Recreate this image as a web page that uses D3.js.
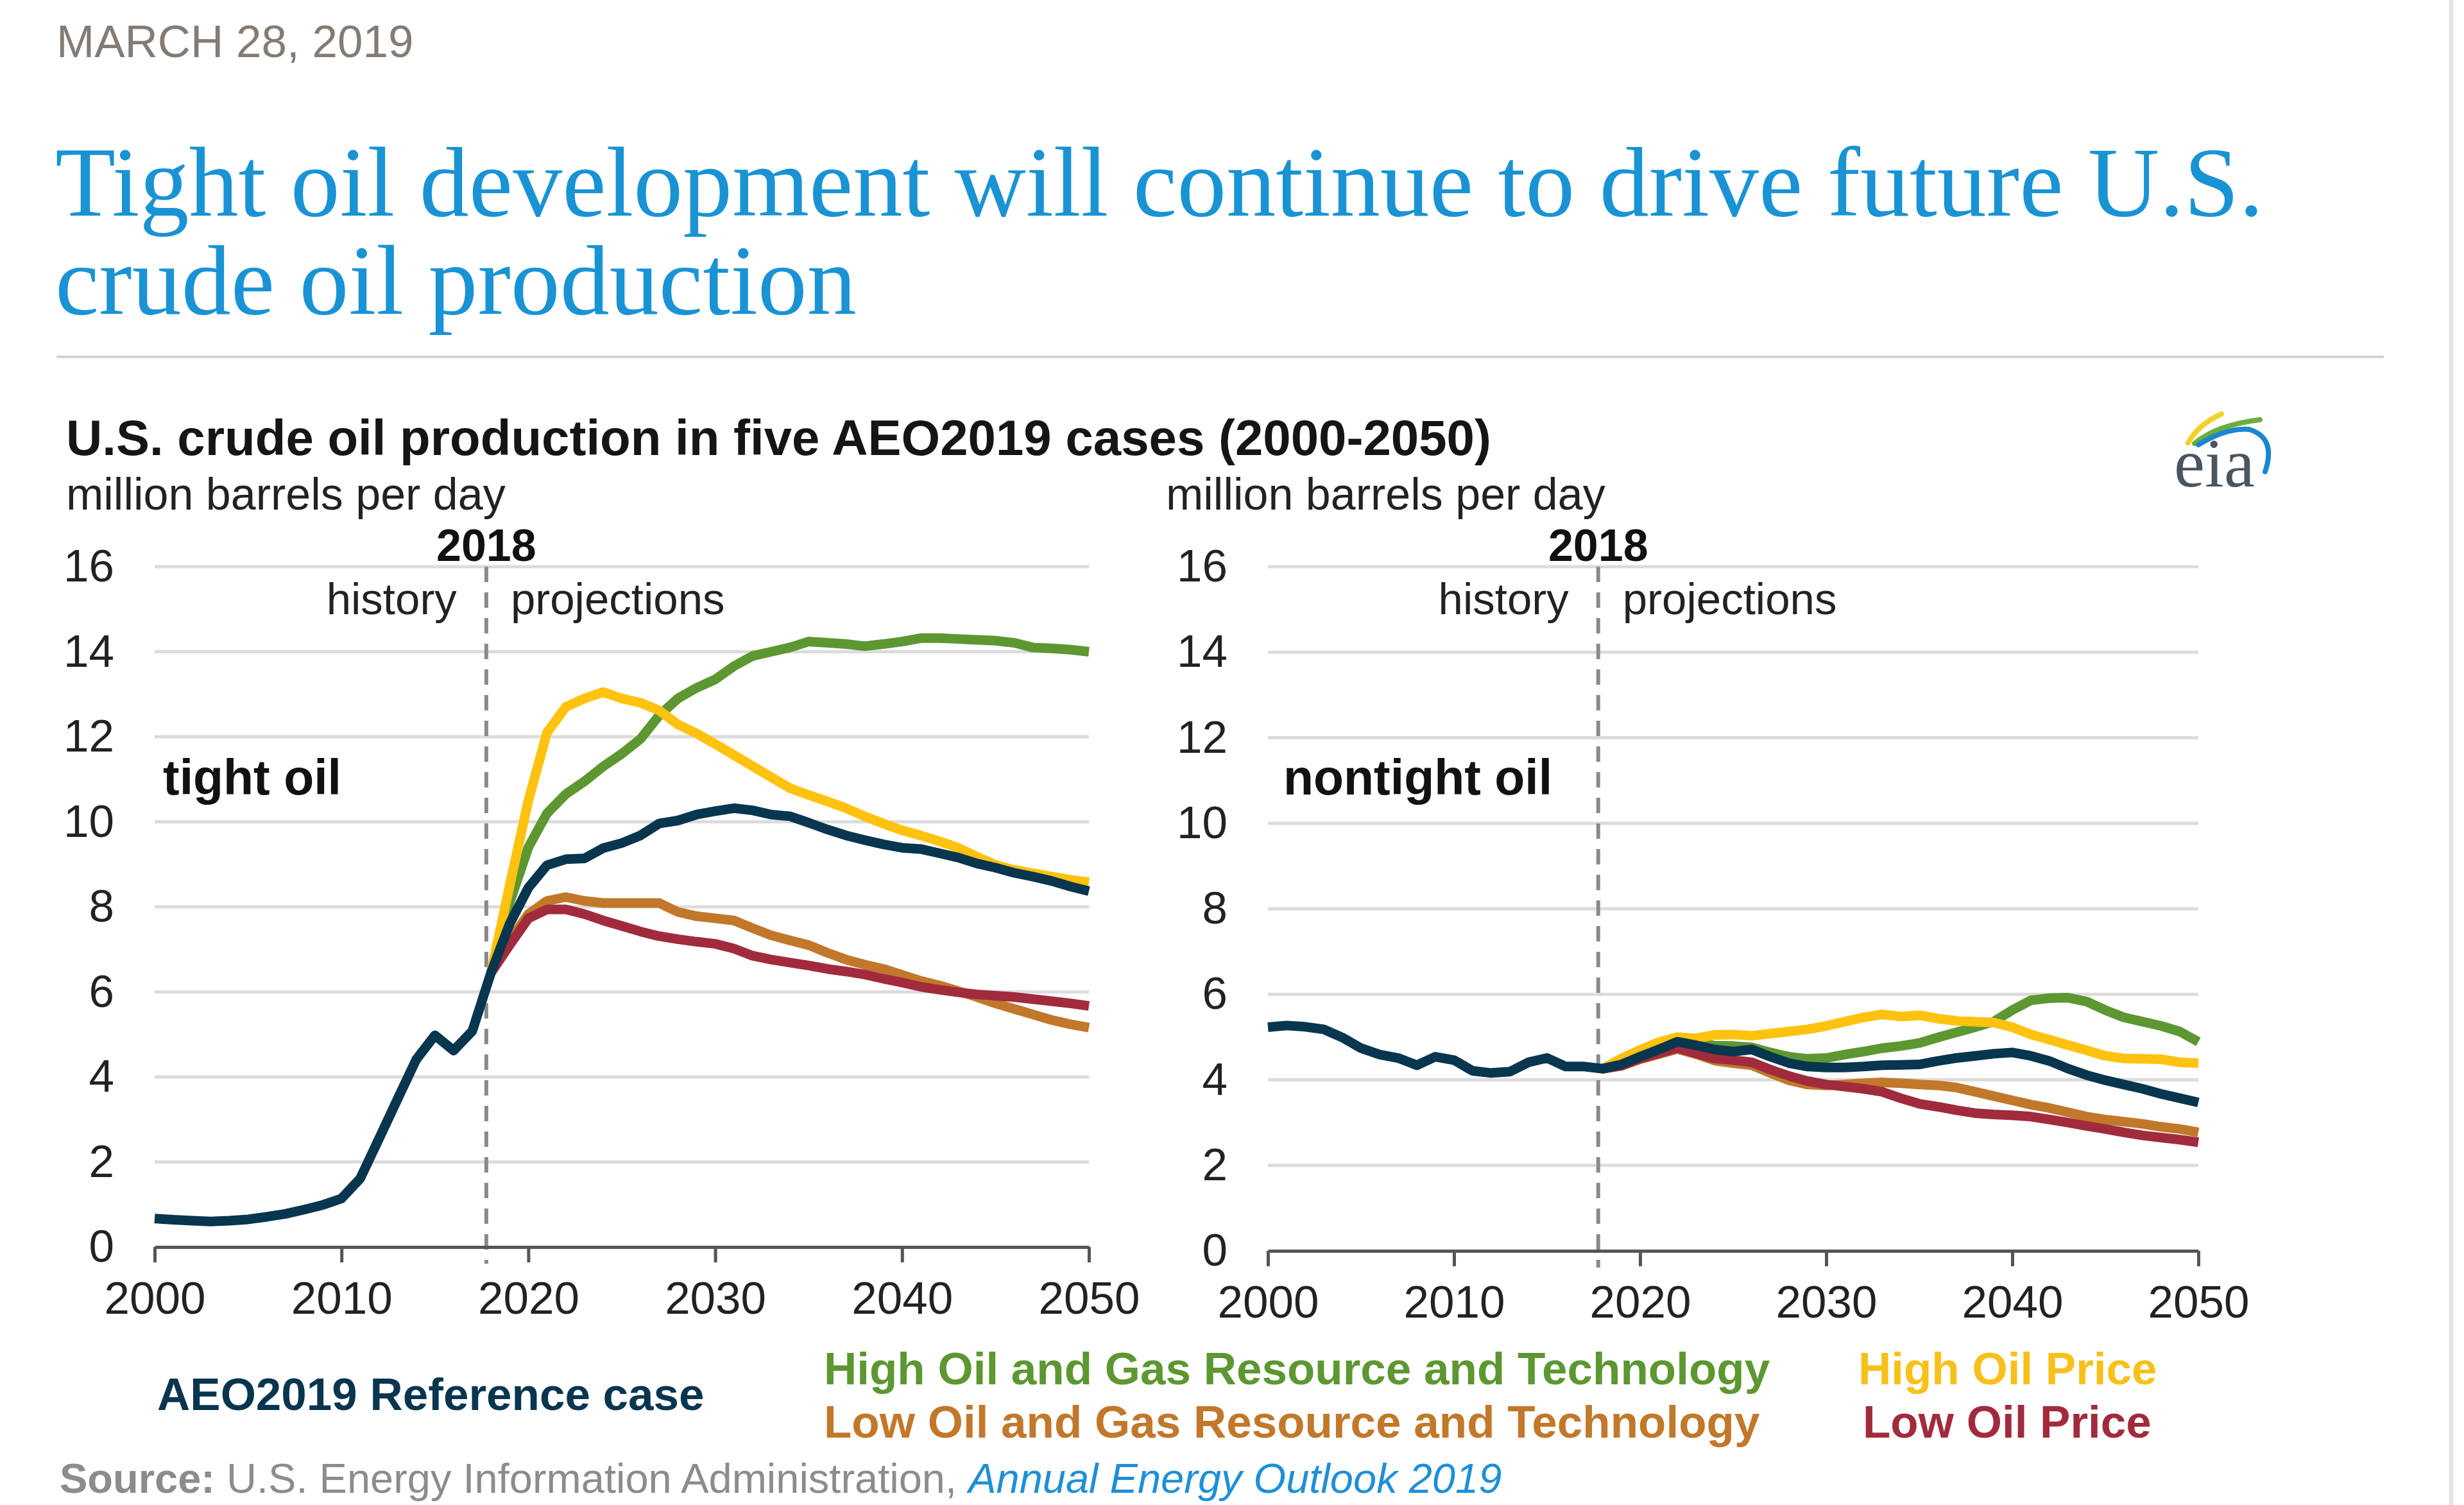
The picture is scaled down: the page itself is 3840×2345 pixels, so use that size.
<!DOCTYPE html>
<html>
<head>
<meta charset="utf-8">
<script src="https://cdn.jsdelivr.net/npm/d3@7"></script>
<style>
  html, body { margin: 0; padding: 0; background: #ffffff; }
  svg { display: block; }
  text { font-family: "Liberation Sans", Arial, sans-serif; }
</style>
</head>
<body>
<svg id="chart" width="3840" height="2345"></svg>
<script>
// ---------------- DATA ----------------
const yearsAll = d3.range(2000, 2051);
const yearsProj = d3.range(2018, 2051);
const xTickValues = [2000, 2010, 2020, 2030, 2040, 2050];
const yTickValues = [0, 2, 4, 6, 8, 10, 12, 14, 16];
const dividerYear = 2017.75;

const caseNames = [
  "AEO2019 Reference case",
  "High Oil and Gas Resource and Technology",
  "Low Oil and Gas Resource and Technology",
  "High Oil Price",
  "Low Oil Price"
];

// tight oil (million barrels per day)
const tightReference = [0.67,0.64,0.62,0.60,0.62,0.65,0.71,0.78,0.88,0.99,
  1.14,1.61,2.54,3.48,4.41,4.98,4.62,5.08,6.45,7.60,
  8.45,8.98,9.12,9.14,9.38,9.50,9.68,9.96,10.03,10.17,
  10.25,10.32,10.27,10.17,10.13,9.98,9.82,9.68,9.57,9.47,
  9.39,9.36,9.26,9.16,9.02,8.92,8.80,8.71,8.61,8.48,8.37];
const tightHighRT = [6.45,8.10,9.40,10.20,10.65,10.95,11.30,11.60,11.95,12.50,
  12.90,13.15,13.35,13.66,13.90,14.00,14.10,14.24,14.21,14.18,
  14.13,14.18,14.24,14.32,14.32,14.30,14.28,14.26,14.21,14.10,14.08,14.05,14.00];
const tightLowRT = [6.45,7.20,7.83,8.14,8.23,8.14,8.09,8.09,8.09,8.09,
  7.88,7.78,7.73,7.68,7.50,7.33,7.21,7.10,6.92,6.76,
  6.64,6.54,6.40,6.26,6.15,6.02,5.88,5.73,5.60,5.47,5.34,5.24,5.16];
const tightHighPrice = [6.45,8.50,10.50,12.10,12.70,12.90,13.05,12.90,12.80,12.62,
  12.29,12.08,11.83,11.57,11.31,11.05,10.79,10.63,10.48,10.32,
  10.13,9.96,9.80,9.68,9.54,9.39,9.18,8.99,8.87,8.79,8.71,8.64,8.58];
const tightLowPrice = [6.45,7.10,7.73,7.94,7.94,7.83,7.68,7.55,7.42,7.31,
  7.24,7.18,7.13,7.02,6.85,6.76,6.69,6.62,6.54,6.48,
  6.41,6.31,6.22,6.12,6.05,5.99,5.94,5.91,5.88,5.83,5.78,5.73,5.67];

// nontight oil (million barrels per day)
const nontightReference = [5.23,5.27,5.24,5.18,4.99,4.74,4.59,4.51,4.34,4.54,
  4.46,4.21,4.16,4.19,4.41,4.51,4.31,4.31,4.26,4.36,
  4.54,4.71,4.89,4.81,4.71,4.66,4.71,4.54,4.39,4.31,
  4.29,4.29,4.31,4.34,4.35,4.36,4.44,4.51,4.56,4.61,
  4.64,4.56,4.44,4.26,4.11,3.99,3.89,3.79,3.67,3.57,3.47];
const nontightHighRT = [4.26,4.38,4.56,4.74,4.90,4.85,4.80,4.79,4.76,4.64,
  4.54,4.49,4.51,4.59,4.66,4.74,4.79,4.86,4.99,5.11,
  5.23,5.36,5.63,5.86,5.91,5.92,5.83,5.63,5.46,5.36,5.26,5.13,4.89];
const nontightLowRT = [4.26,4.33,4.48,4.60,4.72,4.60,4.45,4.39,4.34,4.16,
  3.99,3.89,3.87,3.89,3.92,3.94,3.92,3.89,3.87,3.82,
  3.72,3.62,3.52,3.42,3.34,3.24,3.14,3.07,3.02,2.97,2.90,2.85,2.77];
const nontightHighPrice = [4.26,4.50,4.70,4.88,5.00,4.97,5.05,5.06,5.03,5.08,
  5.13,5.18,5.26,5.36,5.46,5.53,5.48,5.51,5.43,5.38,
  5.36,5.34,5.23,5.06,4.94,4.81,4.69,4.56,4.50,4.49,4.48,4.41,4.39];
const nontightLowPrice = [4.26,4.33,4.50,4.62,4.75,4.62,4.50,4.46,4.41,4.24,
  4.09,3.97,3.89,3.84,3.79,3.72,3.57,3.44,3.37,3.29,
  3.22,3.19,3.17,3.14,3.07,3.00,2.92,2.85,2.77,2.70,2.65,2.60,2.54];

// ---------------- STYLE ----------------
const colors = {
  ref: "#08364f",
  highRT: "#5d9732",
  lowRT: "#c2782a",
  highPrice: "#ffc20e",
  lowPrice: "#a12b3d"
};

const svg = d3.select("#chart");
svg.append("rect").attr("width", 3840).attr("height", 2345).attr("fill", "#ffffff");

// page frame
svg.append("line").attr("x1", 3820).attr("x2", 3820).attr("y1", 0).attr("y2", 2345)
  .attr("stroke", "#e3e3e3").attr("stroke-width", 7);

// date
svg.append("text").attr("x", 88).attr("y", 89)
  .attr("font-size", 71).attr("fill", "#847c74")
  .text("MARCH 28, 2019");

// headline
const headline = svg.append("text")
  .attr("font-family", "'Liberation Serif', 'Times New Roman', serif")
  .attr("font-size", 154).attr("fill", "#1a93d4");
headline.append("tspan").attr("x", 86).attr("y", 336)
  .style("font-family", "'Liberation Serif', 'Times New Roman', serif")
  .text("Tight oil development will continue to drive future U.S.");
headline.append("tspan").attr("x", 86).attr("y", 489)
  .style("font-family", "'Liberation Serif', 'Times New Roman', serif")
  .text("crude oil production");

svg.append("line").attr("x1", 88).attr("x2", 3715).attr("y1", 556).attr("y2", 556)
  .attr("stroke", "#d3d3d3").attr("stroke-width", 4);

// chart title
svg.append("text").attr("x", 103).attr("y", 709)
  .attr("font-size", 78).attr("font-weight", "bold").attr("fill", "#151515")
  .text("U.S. crude oil production in five AEO2019 cases (2000-2050)");

// eia logo
const logo = svg.append("g");
logo.append("path").attr("d", "M3410,690 Q3425,662 3462,645")
  .attr("fill", "none").attr("stroke", "#f6d02a").attr("stroke-width", 8).attr("stroke-linecap", "round");
logo.append("path").attr("d", "M3420,691 Q3455,662 3522,654")
  .attr("fill", "none").attr("stroke", "#6cae3c").attr("stroke-width", 8).attr("stroke-linecap", "round");
logo.append("path").attr("d", "M3426,693 Q3470,666 3505,669 Q3548,682 3530,735")
  .attr("fill", "none").attr("stroke", "#1c86cf").attr("stroke-width", 8).attr("stroke-linecap", "round");
logo.append("text").attr("x", 3388).attr("y", 758)
  .style("font-family", "'Liberation Serif', 'Times New Roman', serif")
  .attr("font-size", 108).attr("fill", "#4b5560").text("eia");

// ---------------- PANELS ----------------
function drawPanel(cfg) {
  const x = d3.scaleLinear().domain([2000, 2050]).range(cfg.xRange);
  const y = d3.scaleLinear().domain([0, 16]).range(cfg.yRange);
  const g = svg.append("g");

  // unit label
  g.append("text").attr("x", cfg.unitX).attr("y", 794)
    .attr("font-size", 70).attr("fill", "#222").text("million barrels per day");

  // gridlines
  g.append("g").selectAll("line").data(yTickValues.filter(v => v > 0)).join("line")
    .attr("x1", x(2000)).attr("x2", x(2050))
    .attr("y1", d => y(d)).attr("y2", d => y(d))
    .attr("stroke", "#dcdcdc").attr("stroke-width", 5);

  // y axis labels
  const yAxis = g.append("g").attr("transform", `translate(${x(2000)},0)`)
    .call(d3.axisLeft(y).tickValues(yTickValues).tickSize(0).tickPadding(63).tickFormat(d3.format("d")));
  yAxis.select(".domain").remove();
  yAxis.selectAll("text").attr("font-size", 71).attr("fill", "#222")
    .style("font-family", "'Liberation Sans', Arial, sans-serif");

  // divider
  const xd = x(dividerYear);
  g.append("line").attr("x1", xd).attr("x2", xd).attr("y1", y(16)).attr("y2", y(0) + 26)
    .attr("stroke", "#8a8a8a").attr("stroke-width", 6).attr("stroke-dasharray", "24,16");
  g.append("text").attr("x", xd).attr("y", 874).attr("text-anchor", "middle")
    .attr("font-size", 70).attr("font-weight", "bold").attr("fill", "#111").text("2018");
  g.append("text").attr("x", xd - 46).attr("y", 957).attr("text-anchor", "end")
    .attr("font-size", 69).attr("fill", "#222").text("history");
  g.append("text").attr("x", xd + 38).attr("y", 957)
    .attr("font-size", 69).attr("fill", "#222").text("projections");

  // panel label
  g.append("text").attr("x", cfg.labelX).attr("y", 1238)
    .attr("font-size", 77).attr("font-weight", "bold").attr("fill", "#111").text(cfg.label);

  // lines
  const line = d3.line().x(d => x(d[0])).y(d => y(d[1]));
  const series = [
    { years: yearsProj, values: cfg.highRT, color: colors.highRT },
    { years: yearsProj, values: cfg.highPrice, color: colors.highPrice },
    { years: yearsProj, values: cfg.lowRT, color: colors.lowRT },
    { years: yearsProj, values: cfg.lowPrice, color: colors.lowPrice },
    { years: yearsAll, values: cfg.ref, color: colors.ref }
  ];
  g.append("g").selectAll("path").data(series).join("path")
    .attr("d", s => line(s.years.map((yr, i) => [yr, s.values[i]])))
    .attr("fill", "none").attr("stroke", s => s.color)
    .attr("stroke-width", 15).attr("stroke-linejoin", "round");

  // x axis
  const xAxis = g.append("g").attr("transform", `translate(0,${y(0)})`)
    .call(d3.axisBottom(x).tickValues(xTickValues).tickSize(24).tickPadding(30).tickFormat(d3.format("d")).tickSizeOuter(0));
  xAxis.select(".domain").attr("stroke", "#555").attr("stroke-width", 5);
  xAxis.selectAll(".tick line").attr("stroke", "#555").attr("stroke-width", 5);
  xAxis.selectAll("text").attr("font-size", 71).attr("fill", "#222")
    .style("font-family", "'Liberation Sans', Arial, sans-serif");
}

drawPanel({
  xRange: [241, 1697], yRange: [1943, 883], unitX: 103, labelX: 254, label: "tight oil",
  ref: tightReference, highRT: tightHighRT, lowRT: tightLowRT,
  highPrice: tightHighPrice, lowPrice: tightLowPrice
});
drawPanel({
  xRange: [1976, 3426], yRange: [1949, 883], unitX: 1817, labelX: 2000, label: "nontight oil",
  ref: nontightReference, highRT: nontightHighRT, lowRT: nontightLowRT,
  highPrice: nontightHighPrice, lowPrice: nontightLowPrice
});

// ---------------- LEGEND ----------------
const legendItems = [
  { name: caseNames[0], color: colors.ref, x: 245, y: 2197 },
  { name: caseNames[1], color: colors.highRT, x: 1284, y: 2157 },
  { name: caseNames[2], color: colors.lowRT, x: 1284, y: 2240 },
  { name: caseNames[3], color: "#f7c11a", x: 2896, y: 2157 },
  { name: caseNames[4], color: colors.lowPrice, x: 2903, y: 2240 }
];
svg.append("g").selectAll("text").data(legendItems).join("text")
  .attr("x", d => d.x).attr("y", d => d.y)
  .attr("font-size", 71).attr("font-weight", "bold").attr("fill", d => d.color)
  .text(d => d.name);

// ---------------- SOURCE ----------------
const src = svg.append("text").attr("x", 93).attr("y", 2326).attr("font-size", 65).attr("fill", "#8c8c8c");
src.append("tspan").attr("font-weight", "bold").text("Source:");
src.append("tspan").text(" U.S. Energy Information Administration, ");
src.append("tspan").attr("font-style", "italic").attr("fill", "#1f8fd6").text("Annual Energy Outlook 2019");
</script>
</body>
</html>
